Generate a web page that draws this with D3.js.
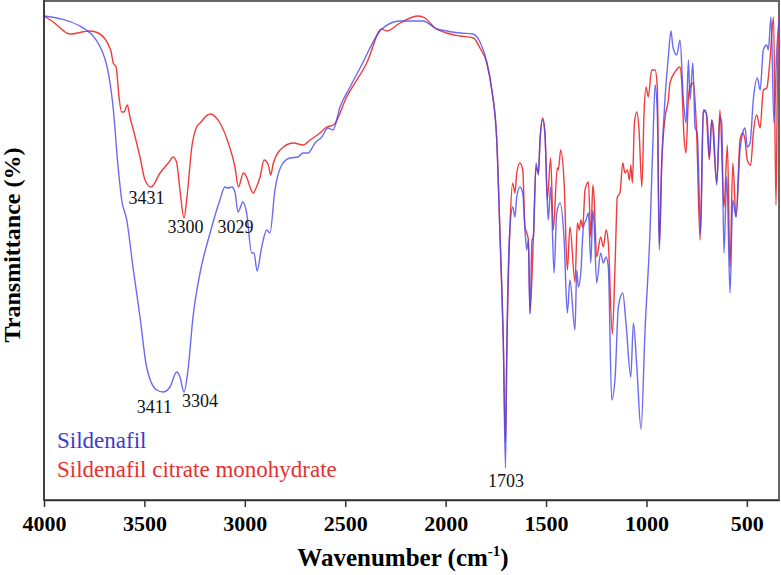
<!DOCTYPE html>
<html>
<head>
<meta charset="utf-8">
<script src="https://cdn.jsdelivr.net/npm/d3@7"></script>
<style>
  body { margin: 0; background: #fff; }
  svg { display: block; }
  text { font-family: "Liberation Serif", "Times New Roman", serif; }
</style>
</head>
<body>
<svg width="781" height="575"></svg>
<script>
// Sildenafil (blue)
const sildenafilWn = [4000,3821,3713,3688,3671,3656,3631,3613,3588,3557,3522,3489,3439,3407,3373,3339,3323,3303,3283,3258,
  3223,3173,3124,3099,3084,3065,3049,3034,3009,2991,2966,2954,2939,2916,2891,2875,2850,2816,2775,2735,
  2710,2685,2650,2617,2586,2561,2526,2476,2426,2318,2227,2113,2044,1995,1928,1864,1829,1795,1770,1746,
  1729,1713,1702,1696,1683,1666,1655,1646,1630,1616,1605,1596,1588,1580,1570,1563,1550,1538,1530,1517,
  1505,1494,1489,1477,1460,1447,1430,1410,1394,1381,1356,1347,1339,1327,1314,1301,1289,1277,1267,1261,
  1248,1228,1215,1201,1190,1173,1156,1140,1118,1102,1078,1065,1048,1027,1007,982,966,957,946,936,
  924,907,891,878,868,849,833,816,803,791,783,769,758,747,730,717,708,697,687,675,
  667,650,634,625,614,600,584,570,554,534,521,509,498,484,468,448,434,418,401,393,
  380,365,351,340];
const sildenafilT = [96.8,94.8,90,87,83.4,78.6,66.6,60,56,46.6,36.6,26.6,22,21.6,22.6,25.6,24.6,21.6,26,36.6,
  45.4,53.4,60,62.6,62.4,62.6,61.6,57.6,59.6,57.4,49.4,49.4,45.8,50.6,54,53.4,62,67,68.4,68.6,
  69.4,69.4,71.4,72.6,74.4,74,78.6,82.6,86.4,94.2,95.8,95.8,94.2,93.8,93.4,93.2,91.6,87.6,82,72.4,
  52.6,32,6.4,28,52,58.6,56.6,60.6,62.6,61.4,54,50,52,37.2,52,52.6,67.4,65,72,76,
  72.6,60,56,62.6,45.4,57.4,59.4,52,37.4,44,34,46,42.6,45.4,54.6,56,57.4,47.4,58,55.4,
  43.4,49.4,47.4,48.6,46.6,20,24.6,38.6,41.4,35.4,24.6,35.4,26.6,14.2,34,54,74,83,77.4,50,
  67.4,80.6,88.6,93.8,90.6,89,92,80,75.4,88,80,87.4,74.6,73.4,53.4,77.4,78,76,68.6,76,
  74.6,63,76.6,75.4,49.4,64.6,41.4,60,56.6,70,73.4,74.4,70.6,71.4,80,84.4,82,90,91,90,
  96.6,75.4,90,96];

// Sildenafil citrate monohydrate (red)
const citrateWn = [4000,3954,3871,3771,3730,3668,3655,3641,3625,3613,3602,3585,3572,3555,3522,3497,3467,3422,3381,3356,
  3339,3323,3303,3286,3264,3240,3223,3173,3124,3082,3049,3032,3007,2991,2974,2958,2944,2924,2904,2883,
  2871,2858,2808,2758,2709,2675,2626,2592,2559,2493,2393,2318,2293,2227,2136,2103,2053,1995,1928,1862,
  1829,1795,1770,1746,1729,1713,1702,1696,1679,1666,1655,1646,1630,1616,1605,1596,1588,1580,1563,1550,
  1538,1530,1517,1505,1494,1477,1464,1444,1439,1427,1410,1394,1381,1356,1344,1334,1327,1317,1306,1289,
  1277,1267,1261,1248,1228,1215,1201,1190,1170,1156,1145,1132,1118,1107,1095,1085,1078,1070,1060,1048,
  1037,1023,1012,1002,991,974,957,946,936,924,907,891,883,858,833,825,813,803,791,783,
  766,750,733,717,703,687,675,650,634,614,597,584,570,554,534,521,509,498,481,468,
  451,434,418,401,385,367,355,348,340];
const citrateT = [96.8,95.6,93.2,93.8,93.4,90,87.4,86.6,80,77.6,77.6,79,76.6,74,68.6,64,62.6,65.4,67.4,68.6,
  67.4,62,56.4,61.4,70.6,74.6,75.4,77.2,75.4,71.4,66.6,62.6,65.4,64.6,62.6,61.4,62.4,64.6,68,67,
  65,67.4,70.6,71.4,71,72,73.4,74.6,75,80.6,87.4,94.2,93.8,95.4,96.8,96.4,94.4,93.4,92.8,92.4,
  90.4,87.4,82,72.4,52.6,32,11.6,28,55.4,63.4,61.4,65.4,67.4,66,54.6,53.4,52,37.4,52.6,66.6,
  65.4,72,76.4,73.4,60,68.4,54,66.4,66,70,63.4,46,54.6,43.6,55.4,54,56,54.6,62,63.6,
  52.6,63,60.6,48.6,52.6,50.6,54,51.4,33.2,47.4,60.6,61.4,67.4,65.4,66,64,67,63.4,75.4,77.6,
  74,62.6,77.4,82.6,80.6,86,86,82.6,51,67.4,76.6,80,83.4,85.6,86.6,84,72.6,69.4,80.6,82.6,
  83.4,73.4,52,78,77.4,68,76,63.4,78,58.6,71,46.6,67.4,56.6,72,73.4,72,68,67,73.4,
  77,74.4,82,82.4,88,96.6,59,83.4,96.6];

const xTicks = [4000, 3500, 3000, 2500, 2000, 1500, 1000, 500];

const peakNames = ["3431", "3300", "3029", "3411", "3304", "1703"];
const peakLabelWn = [3490, 3295, 3046, 3450, 3223, 1699];
const peakLabelT = [59.2, 53.4, 53.4, 17.4, 18.6, 2.6];

const seriesNames = ["Sildenafil", "Sildenafil citrate monohydrate"];

const colors = {
  blue: "#4646ee",
  red: "#f03c3c",
  legendBlue: "#3c3cc8",
  legendRed: "#e83030",
  frame: "#666"
};

const serif = "Liberation Serif";

const svg = d3.select("svg");
const plotLeft = 44, plotRight = 779, plotTop = 0, plotBottom = 500;

const x = d3.scaleLinear().domain([4000, 340]).range([plotLeft, plotRight]);
const y = d3.scaleLinear().domain([0, 100]).range([plotBottom, plotTop]);

// frame
svg.append("rect")
  .attr("x", plotLeft).attr("y", plotTop + 1)
  .attr("width", plotRight - plotLeft).attr("height", plotBottom - plotTop - 1)
  .attr("fill", "none")
  .attr("stroke", colors.frame)
  .attr("stroke-width", 2);

const line = d3.line()
  .x(d => x(d[0]))
  .y(d => y(d[1]))
  .curve(d3.curveMonotoneX);

svg.append("path")
  .datum(d3.zip(citrateWn, citrateT))
  .attr("d", line)
  .attr("fill", "none")
  .attr("stroke", colors.red)
  .attr("stroke-width", 1.4);

svg.append("path")
  .datum(d3.zip(sildenafilWn, sildenafilT))
  .attr("d", line)
  .attr("fill", "none")
  .attr("stroke", colors.blue)
  .attr("stroke-opacity", 0.8)
  .attr("stroke-width", 1.4);

// x axis
const xAxis = svg.append("g")
  .attr("transform", `translate(0,${plotBottom})`)
  .call(d3.axisBottom(x).tickValues(xTicks).tickSize(7).tickSizeOuter(0).tickFormat(d3.format("d")));
xAxis.select(".domain").attr("stroke", "#333").attr("stroke-width", 1.5);
xAxis.selectAll(".tick line").attr("stroke", "#333").attr("stroke-width", 1.5);
xAxis.selectAll(".tick text")
  .attr("font-family", serif)
  .attr("font-size", 22)
  .attr("font-weight", "bold")
  .attr("fill", "#000")
  .attr("dy", "0.95em");

// left axis line
svg.append("line")
  .attr("x1", plotLeft).attr("x2", plotLeft)
  .attr("y1", plotTop).attr("y2", plotBottom)
  .attr("stroke", "#333").attr("stroke-width", 1.5);

// axis titles
const xTitle = svg.append("text")
  .attr("x", 403).attr("y", 566)
  .attr("text-anchor", "middle")
  .attr("font-family", serif)
  .attr("font-size", 25)
  .attr("font-weight", "bold");
xTitle.append("tspan").text("Wavenumber (cm");
xTitle.append("tspan").attr("font-size", 15).attr("dy", -10).text("-1");
xTitle.append("tspan").attr("dy", 10).text(")");

svg.append("text")
  .attr("transform", "translate(20,245) rotate(-90)")
  .attr("text-anchor", "middle")
  .attr("font-family", serif)
  .attr("font-size", 24)
  .attr("font-weight", "bold")
  .text("Transmittance (%)");

// peak labels
svg.append("g").selectAll("text")
  .data(peakNames).enter().append("text")
  .attr("x", (d, i) => x(peakLabelWn[i]))
  .attr("y", (d, i) => y(peakLabelT[i]))
  .attr("text-anchor", "middle")
  .attr("font-family", serif)
  .attr("font-size", 18)
  .attr("fill", "#111")
  .text(d => d);

// legend
svg.append("g").selectAll("text")
  .data(seriesNames).enter().append("text")
  .attr("x", 57)
  .attr("y", (d, i) => 448 + i * 29)
  .attr("font-family", serif)
  .attr("font-size", 23)
  .attr("fill", (d, i) => i == 0 ? colors.legendBlue : colors.legendRed)
  .text(d => d);
</script>
</body>
</html>
